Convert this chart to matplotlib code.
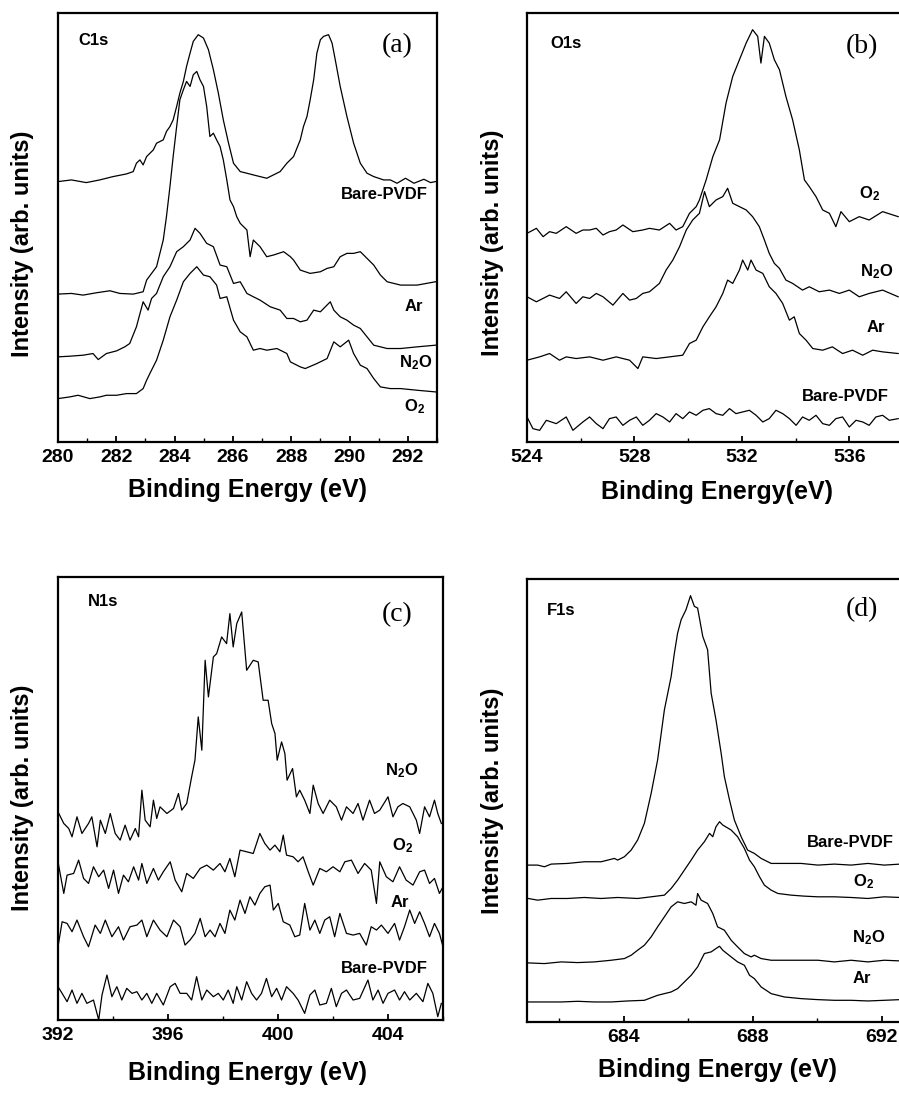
import matplotlib
matplotlib.use("Agg")
import matplotlib.pyplot as plt
from matplotlib.ticker import MultipleLocator

plt.rcParams['font.family'] = ['Liberation Sans', 'DejaVu Sans']
plt.rcParams['font.weight'] = 'bold'
plt.rcParams['mathtext.fontset'] = 'custom'
plt.rcParams['mathtext.rm'] = 'Liberation Sans:bold'
plt.rcParams['mathtext.bf'] = 'Liberation Sans:bold'
plt.rcParams['mathtext.it'] = 'Liberation Sans:bold'

# ---------------- Panel (a) C1s ----------------
a_bare_E = [280.00, 280.46, 280.97, 281.43, 281.89, 282.35, 282.58, 282.69, 282.81, 282.92, 283.04, 283.27,
            283.38, 283.61, 283.72, 283.84, 283.95, 284.07, 284.18, 284.30, 284.41, 284.53, 284.64, 284.81,
            284.99, 285.16, 285.33, 285.50, 285.67, 285.85, 286.02, 286.25, 286.48, 286.70, 286.93, 287.16,
            287.39, 287.62, 287.85, 288.08, 288.31, 288.42, 288.54, 288.65, 288.77, 288.88, 289.00, 289.11,
            289.28, 289.40, 289.51, 289.68, 289.91, 290.14, 290.37, 290.60, 290.83, 291.17, 291.40, 291.63,
            291.92, 292.21, 292.55, 292.78, 292.95]
a_bare_I = [78.0, 78.5, 77.7, 78.5, 79.5, 80.3, 81.0, 83.5, 84.5, 83.0, 85.5, 87.5,
            89.5, 90.5, 93.0, 94.5, 96.5, 100.5, 104.5, 108.0, 112.5, 116.5, 120.0, 122.0,
            121.0, 117.5, 111.5, 104.5, 96.5, 89.5, 83.5, 81.0, 80.5, 80.0, 79.5, 79.0,
            80.0, 81.0, 83.5, 85.5, 90.5, 94.5, 97.5, 102.5, 108.5, 116.5, 120.5, 121.5,
            122.0, 119.5, 114.5, 106.5, 97.5, 89.5, 83.5, 80.5, 79.5, 78.5, 78.5, 77.5,
            79.0, 77.5, 78.7, 77.7, 78.0]

a_ar_E = [280.00, 280.46, 280.86, 281.32, 281.78, 282.12, 282.58, 282.92, 283.04, 283.38, 283.61, 283.72,
          283.84, 283.95, 284.07, 284.18, 284.30, 284.41, 284.53, 284.64, 284.76, 284.87, 284.99, 285.10,
          285.21, 285.33, 285.44, 285.56, 285.67, 285.79, 285.90, 286.02, 286.13, 286.25, 286.48, 286.59,
          286.70, 286.93, 287.16, 287.39, 287.74, 287.97, 288.08, 288.31, 288.65, 289.00, 289.23, 289.46,
          289.68, 289.91, 290.14, 290.37, 290.60, 290.83, 291.06, 291.29, 291.75, 292.32, 292.95]
a_ar_I = [44.3, 44.5, 44.0, 44.7, 45.3, 44.5, 44.3, 45.0, 48.5, 52.5, 60.5, 67.5,
          76.5, 85.5, 94.5, 102.5, 105.5, 108.0, 106.5, 110.0, 111.0, 108.5, 106.5, 100.5,
          91.5, 92.5, 90.5, 88.5, 84.5, 78.5, 72.5, 70.5, 67.5, 65.5, 63.5, 55.5,
          60.5, 58.5, 55.5, 56.0, 57.0, 55.5, 54.5, 51.5, 50.5, 51.0, 52.0, 52.5,
          55.5, 56.5, 56.5, 57.0, 55.0, 53.0, 50.0, 48.0, 47.0, 47.0, 48.0]

a_n2o_E = [280.00, 280.40, 280.86, 281.20, 281.38, 281.66, 282.01, 282.29, 282.46, 282.69, 282.92, 283.09,
           283.21, 283.38, 283.61, 283.84, 284.07, 284.30, 284.53, 284.70, 284.87, 285.10, 285.33, 285.56,
           285.79, 286.02, 286.25, 286.48, 286.70, 286.93, 287.28, 287.62, 287.85, 288.08, 288.31, 288.54,
           288.77, 289.00, 289.34, 289.46, 289.68, 289.91, 290.14, 290.37, 290.60, 290.83, 291.29, 291.75,
           292.32, 292.95]
a_n2o_I = [25.5, 25.7, 26.0, 26.5, 24.7, 26.5, 27.3, 28.5, 29.5, 34.5, 42.0, 39.5,
           43.0, 44.5, 49.5, 52.5, 57.0, 58.5, 60.5, 64.0, 62.5, 59.5, 58.5, 53.0,
           52.5, 47.5, 48.0, 44.5, 43.5, 42.5, 40.5, 39.5, 37.0, 37.0, 36.0, 36.5,
           39.5, 39.0, 42.0, 39.5, 37.5, 36.5, 35.0, 34.0, 31.5, 29.0, 28.0, 28.0,
           28.5, 29.0]

a_o2_E = [280.00, 280.40, 280.69, 281.09, 281.43, 281.66, 282.01, 282.35, 282.69, 282.92, 283.04, 283.15,
          283.38, 283.61, 283.84, 284.07, 284.30, 284.53, 284.76, 284.99, 285.21, 285.44, 285.56, 285.79,
          286.02, 286.25, 286.48, 286.70, 286.93, 287.16, 287.51, 287.85, 287.97, 288.31, 288.48, 288.88,
          289.23, 289.46, 289.68, 289.97, 290.14, 290.37, 290.60, 290.83, 291.06, 291.40, 291.75, 292.32,
          292.95]
a_o2_I = [13.0, 13.5, 14.0, 13.0, 13.5, 14.0, 14.0, 14.5, 14.5, 16.0, 18.5, 20.5,
          24.5, 30.5, 37.5, 42.5, 48.0, 50.5, 52.5, 50.0, 49.5, 47.0, 43.0, 43.5,
          36.5, 33.0, 31.5, 27.5, 28.0, 27.5, 28.0, 26.5, 24.0, 22.5, 22.0, 23.5,
          25.0, 30.0, 28.5, 30.5, 26.5, 23.0, 22.0, 19.0, 16.5, 16.0, 16.0, 15.5,
          15.0]

# ---------------- Panel (b) O1s ----------------
b_o2_E = [524.00, 524.35, 524.60, 524.84, 525.09, 525.46, 525.83, 526.08, 526.33, 526.58, 526.83, 527.07,
          527.32, 527.57, 527.94, 528.31, 528.56, 528.93, 529.31, 529.55, 529.80, 530.05, 530.30, 530.42,
          530.67, 530.92, 531.17, 531.41, 531.66, 531.91, 532.16, 532.40, 532.59, 532.71, 532.84, 533.02,
          533.21, 533.40, 533.64, 533.89, 534.14, 534.33, 534.51, 534.76, 535.01, 535.26, 535.50, 535.69,
          536.00, 536.37, 536.74, 537.24, 537.82]
b_o2_I = [62.5, 64.0, 61.5, 63.0, 62.5, 64.5, 62.5, 63.5, 63.5, 64.0, 62.0, 63.0,
          63.5, 65.0, 63.0, 63.5, 64.0, 63.5, 65.5, 63.5, 64.5, 68.5, 70.5, 72.5,
          78.5, 85.5, 90.5, 101.5, 109.5, 114.5, 119.5, 123.5, 121.5, 113.5, 121.5, 119.5,
          114.5, 111.5, 103.5, 96.5, 87.5, 78.5, 76.5, 73.5, 69.5, 68.5, 64.5, 69.0,
          66.0, 67.5, 66.5, 69.0, 67.5]

b_n2o_E = [524.00, 524.35, 524.84, 525.21, 525.46, 525.83, 526.08, 526.33, 526.58, 526.83, 527.20, 527.57,
           527.82, 528.07, 528.31, 528.56, 528.93, 529.18, 529.43, 529.68, 529.93, 530.17, 530.42, 530.61,
           530.79, 531.04, 531.29, 531.47, 531.66, 531.91, 532.16, 532.40, 532.65, 532.84, 533.02, 533.21,
           533.40, 533.64, 533.89, 534.26, 534.51, 534.88, 535.26, 535.63, 536.00, 536.37, 536.74, 537.24,
           537.82]
b_n2o_I = [43.5, 42.0, 44.0, 43.0, 45.0, 41.5, 43.5, 43.0, 44.5, 43.5, 41.0, 44.5,
           42.5, 43.0, 44.5, 45.0, 47.5, 51.5, 54.5, 58.5, 63.5, 66.5, 68.5, 75.0,
           70.5, 72.5, 73.5, 76.0, 71.5, 70.5, 69.5, 67.5, 64.5, 60.5, 56.5, 53.5,
           52.0, 48.5, 47.5, 45.5, 46.5, 45.0, 45.5, 44.5, 45.5, 43.5, 44.5, 45.5,
           43.5]

b_ar_E = [524.00, 524.47, 524.84, 525.21, 525.46, 525.83, 526.33, 526.83, 527.32, 527.82, 528.13, 528.31,
          528.81, 529.31, 529.80, 530.05, 530.30, 530.55, 530.79, 531.04, 531.29, 531.47, 531.66, 531.91,
          532.03, 532.22, 532.34, 532.53, 532.78, 533.02, 533.27, 533.52, 533.77, 533.95, 534.14, 534.39,
          534.64, 535.01, 535.37, 535.75, 536.12, 536.50, 536.87, 537.24, 537.82]
b_ar_I = [24.5, 25.5, 26.5, 24.5, 25.5, 25.0, 25.5, 24.5, 25.5, 24.5, 22.0, 25.5,
          25.0, 25.5, 26.0, 29.5, 30.5, 34.5, 37.5, 40.5, 44.5, 48.5, 47.5, 51.5,
          54.5, 51.5, 54.5, 51.5, 50.5, 46.5, 44.5, 41.5, 36.5, 37.5, 32.5, 30.5,
          28.0, 27.5, 28.5, 26.5, 27.5, 26.0, 27.5, 27.0, 26.5]

b_bare_E = [524.00, 524.22, 524.47, 524.72, 525.09, 525.46, 525.71, 526.08, 526.33, 526.58, 526.83, 527.07,
            527.32, 527.57, 527.82, 528.07, 528.31, 528.56, 528.81, 529.06, 529.31, 529.55, 529.80, 530.05,
            530.30, 530.55, 530.79, 531.04, 531.29, 531.54, 531.78, 532.03, 532.28, 532.53, 532.78, 533.02,
            533.27, 533.52, 533.77, 534.02, 534.26, 534.51, 534.76, 535.01, 535.26, 535.50, 535.75, 536.00,
            536.25, 536.50, 536.74, 536.99, 537.24, 537.49, 537.82]
b_bare_I = [7.5, 4.0, 3.5, 6.5, 5.5, 7.5, 3.5, 6.0, 7.5, 5.5, 4.0, 7.0,
            7.5, 5.0, 6.5, 7.5, 5.0, 6.5, 8.5, 7.5, 6.0, 8.5, 7.0, 9.0,
            8.0, 9.5, 10.0, 8.5, 8.0, 10.0, 8.5, 9.0, 9.5, 8.0, 6.0, 7.0,
            9.5, 8.5, 7.0, 5.0, 7.5, 6.5, 8.0, 5.5, 5.0, 7.0, 7.5, 4.5,
            6.5, 6.0, 5.0, 7.5, 8.0, 6.5, 7.0]

# ---------------- Panel (c) N1s ----------------
c_n2o_E = [392.00, 392.21, 392.39, 392.51, 392.69, 392.87, 393.11, 393.23, 393.42, 393.54, 393.72, 393.90,
           394.08, 394.26, 394.44, 394.62, 394.81, 394.93, 395.05, 395.17, 395.35, 395.47, 395.59, 395.71,
           395.96, 396.20, 396.38, 396.50, 396.68, 396.86, 396.98, 397.10, 397.23, 397.35, 397.47, 397.65,
           397.77, 397.95, 398.13, 398.25, 398.37, 398.50, 398.68, 398.86, 399.10, 399.28, 399.46, 399.64,
           399.77, 399.89, 399.97, 400.13, 400.25, 400.33, 400.53, 400.67, 400.79, 400.97, 401.16, 401.28,
           401.46, 401.64, 401.88, 402.12, 402.31, 402.49, 402.73, 402.91, 403.09, 403.33, 403.51, 403.70,
           404.00, 404.18, 404.36, 404.54, 404.79, 405.03, 405.15, 405.33, 405.51, 405.69, 405.81, 405.94]
c_n2o_I = [62.5, 59.0, 57.5, 55.0, 61.0, 56.0, 59.0, 61.0, 52.0, 60.0, 56.0, 62.0,
           56.0, 54.0, 58.5, 54.0, 57.5, 55.0, 69.0, 60.0, 58.0, 66.0, 60.5, 64.0,
           62.0, 63.5, 68.0, 63.0, 65.0, 73.0, 78.0, 91.0, 81.0, 108.0, 97.0, 109.0,
           110.0, 115.0, 113.0, 122.0, 112.0, 119.0, 122.5, 105.0, 108.0, 107.5, 96.0, 96.0,
           89.0, 86.0, 78.0, 83.5, 80.0, 72.0, 75.5, 67.0, 69.0, 66.0, 62.0, 70.5,
           65.0, 62.0, 66.0, 64.0, 60.0, 64.0, 62.0, 65.0, 60.0, 66.0, 62.0, 63.0,
           67.0, 61.0, 64.0, 65.0, 64.0, 60.0, 56.0, 64.0, 61.0, 66.0, 62.0, 59.0]

c_o2_E = [392.00, 392.21, 392.33, 392.57, 392.75, 392.93, 393.11, 393.29, 393.48, 393.66, 393.84, 394.02,
          394.20, 394.38, 394.56, 394.75, 394.93, 395.05, 395.23, 395.47, 395.65, 395.83, 396.08, 396.26,
          396.50, 396.68, 396.92, 397.17, 397.41, 397.65, 397.89, 398.07, 398.25, 398.43, 398.62, 398.86,
          399.10, 399.34, 399.52, 399.71, 399.89, 400.07, 400.19, 400.31, 400.55, 400.73, 400.91, 401.10,
          401.28, 401.52, 401.76, 402.00, 402.25, 402.43, 402.67, 402.91, 403.15, 403.39, 403.58, 403.70,
          403.94, 404.18, 404.42, 404.66, 404.91, 405.15, 405.33, 405.51, 405.69, 405.87, 406.00]
c_o2_I = [47.5, 38.0, 43.5, 44.0, 48.0, 42.5, 41.0, 46.0, 43.0, 45.0, 39.5, 45.0,
          38.0, 43.5, 41.5, 46.0, 42.0, 47.0, 41.0, 45.5, 42.0, 44.5, 47.5, 42.0,
          38.5, 44.0, 42.5, 45.5, 46.5, 45.0, 47.0, 44.5, 48.5, 43.0, 51.0, 50.5,
          50.0, 56.0, 53.0, 51.0, 52.5, 50.5, 55.5, 49.5, 49.0, 47.5, 49.0, 44.5,
          40.5, 45.5, 44.5, 46.0, 44.5, 47.5, 48.0, 44.0, 47.0, 45.0, 35.0, 47.5,
          43.0, 41.5, 46.0, 42.0, 40.5, 44.5, 45.0, 41.0, 42.5, 38.0, 40.0]

c_ar_E = [392.00, 392.15, 392.33, 392.51, 392.69, 392.93, 393.11, 393.35, 393.54, 393.72, 393.96, 394.20,
          394.38, 394.62, 394.87, 395.05, 395.23, 395.47, 395.71, 395.96, 396.20, 396.44, 396.62, 396.80,
          396.98, 397.17, 397.35, 397.53, 397.71, 397.89, 398.07, 398.25, 398.43, 398.62, 398.80, 398.98,
          399.16, 399.34, 399.52, 399.71, 399.83, 400.01, 400.19, 400.43, 400.61, 400.79, 400.97, 401.16,
          401.34, 401.52, 401.70, 401.88, 402.06, 402.25, 402.49, 402.73, 402.97, 403.21, 403.39, 403.58,
          403.76, 404.00, 404.24, 404.42, 404.60, 404.79, 404.97, 405.15, 405.33, 405.51, 405.69, 405.87,
          406.00]
c_ar_I = [22.0, 29.5, 29.0, 26.5, 30.0, 25.0, 22.0, 28.5, 26.0, 30.0, 25.0, 28.0,
          24.0, 28.0, 28.5, 30.0, 25.0, 30.0, 27.0, 25.0, 30.0, 28.0, 22.5, 24.0,
          26.0, 30.5, 25.0, 27.0, 25.0, 29.0, 26.0, 33.0, 30.0, 36.0, 32.0, 37.0,
          34.5, 38.0, 40.0, 40.5, 33.0, 35.0, 29.5, 28.5, 25.0, 25.5, 35.0, 27.0,
          30.0, 26.0, 30.0, 31.0, 25.0, 32.0, 26.0, 25.5, 26.0, 22.5, 28.0, 27.0,
          28.5, 26.0, 29.0, 24.0, 28.0, 33.0, 29.0, 32.5, 29.0, 25.0, 29.0, 26.0,
          22.0]

c_bare_E = [392.00, 392.15, 392.33, 392.51, 392.69, 392.87, 393.05, 393.29, 393.48, 393.60, 393.78, 393.96,
            394.14, 394.32, 394.50, 394.69, 394.87, 395.05, 395.23, 395.41, 395.59, 395.83, 396.08, 396.26,
            396.44, 396.68, 396.86, 397.04, 397.23, 397.41, 397.65, 397.83, 398.01, 398.19, 398.37, 398.50,
            398.68, 398.86, 399.04, 399.22, 399.40, 399.58, 399.77, 399.95, 400.13, 400.31, 400.55, 400.73,
            400.97, 401.16, 401.34, 401.52, 401.76, 401.94, 402.12, 402.31, 402.49, 402.73, 402.97, 403.27,
            403.45, 403.64, 403.82, 404.00, 404.24, 404.42, 404.60, 404.79, 405.03, 405.27, 405.45, 405.63,
            405.81, 405.94]
c_bare_I = [10.0, 8.0, 5.5, 9.0, 5.0, 8.0, 5.0, 6.0, 0.0, 7.5, 13.5, 7.0,
            10.0, 6.0, 9.5, 8.0, 8.5, 6.0, 8.0, 5.0, 8.0, 4.5, 10.0, 11.0,
            8.0, 8.0, 6.0, 13.0, 6.0, 9.0, 7.0, 8.0, 6.0, 9.0, 5.0, 10.0,
            6.0, 11.5, 8.0, 6.0, 8.0, 12.5, 7.0, 9.5, 6.0, 10.0, 8.0, 6.0,
            2.0, 7.5, 9.0, 4.5, 5.0, 9.5, 4.0, 8.0, 9.0, 6.0, 6.5, 12.0,
            6.0, 9.0, 5.0, 8.0, 9.0, 6.0, 8.5, 6.0, 8.0, 5.5, 11.0, 8.0,
            1.0, 5.0]

# ---------------- Panel (d) F1s ----------------
d_bare_E = [681.04, 681.33, 681.54, 681.75, 682.26, 682.78, 683.30, 683.71, 683.81, 684.02, 684.23, 684.43,
            684.64, 684.85, 685.05, 685.26, 685.47, 685.57, 685.67, 685.78, 685.93, 686.07, 686.19, 686.29,
            686.45, 686.60, 686.71, 686.86, 687.02, 687.12, 687.28, 687.43, 687.64, 687.84, 688.05, 688.26,
            688.57, 688.98, 689.50, 690.02, 690.53, 691.05, 691.57, 692.08, 692.57]
d_bare_I = [47.0, 47.0, 46.5, 47.3, 47.5, 48.0, 48.0, 49.0, 48.5, 49.5, 51.5, 54.5,
            59.5, 68.5, 78.5, 93.5, 103.5, 110.5, 116.5, 120.5, 123.5, 127.7, 124.5, 124.0,
            115.5, 111.5, 98.5, 90.5, 80.5, 73.5, 66.5, 60.5, 55.5, 51.5, 50.5, 49.0,
            47.5, 47.5, 47.5, 47.0, 47.3, 47.0, 47.5, 47.0, 47.3]

d_o2_E = [681.04, 681.33, 681.75, 682.26, 682.78, 683.30, 683.81, 684.43, 684.85, 685.26, 685.47, 685.67,
          685.88, 686.09, 686.29, 686.50, 686.66, 686.76, 686.86, 686.97, 687.07, 687.33, 687.53, 687.74,
          687.90, 688.05, 688.21, 688.36, 688.57, 688.78, 689.19, 689.60, 690.02, 690.53, 691.05, 691.57,
          692.08, 692.57]
d_o2_I = [37.0, 36.5, 37.0, 37.0, 37.3, 37.0, 37.3, 37.0, 37.5, 38.0, 40.0, 42.5,
          45.5, 48.5, 51.5, 54.0, 56.5, 55.5, 58.5, 60.0, 59.0, 57.5, 55.5, 52.0,
          48.5, 46.5, 43.5, 41.0, 39.5, 38.5, 38.0, 37.7, 37.5, 37.5, 37.3, 37.0,
          37.5, 37.3]

d_n2o_E = [681.04, 681.54, 682.06, 682.57, 683.09, 683.61, 684.02, 684.23, 684.43, 684.64, 684.85, 685.05,
           685.26, 685.47, 685.67, 685.88, 686.09, 686.24, 686.29, 686.40, 686.60, 686.76, 686.91, 687.12,
           687.33, 687.53, 687.74, 687.95, 688.05, 688.26, 688.57, 688.98, 689.50, 690.02, 690.53, 691.05,
           691.57, 692.08, 692.57]
d_n2o_I = [17.7, 17.5, 18.0, 17.8, 18.0, 18.5, 19.0, 20.0, 21.5, 23.0, 25.5, 28.5,
           31.5, 34.5, 36.0, 35.5, 36.0, 35.0, 38.5, 36.5, 35.5, 32.5, 28.5, 27.5,
           24.5, 22.5, 20.5, 19.5, 20.0, 19.0, 18.5, 18.5, 18.5, 18.5, 18.0, 18.5,
           18.0, 18.5, 18.3]

d_ar_E = [681.04, 681.54, 682.06, 682.57, 683.09, 683.61, 684.12, 684.64, 685.05, 685.26, 685.47, 685.67,
          685.88, 686.09, 686.29, 686.50, 686.71, 686.86, 686.97, 687.07, 687.33, 687.53, 687.74, 687.90,
          688.05, 688.26, 688.57, 688.98, 689.50, 690.02, 690.53, 691.05, 691.57, 692.08, 692.57]
d_ar_I = [6.0, 6.0, 6.0, 6.2, 6.0, 6.0, 6.3, 6.5, 8.0, 8.5, 9.0, 10.0,
          12.0, 14.0, 16.5, 20.5, 21.0, 22.0, 22.7, 21.5, 19.5, 18.0, 17.0, 14.0,
          13.0, 10.5, 8.5, 7.5, 7.0, 6.7, 6.5, 6.5, 6.3, 6.5, 6.7]

N2O = r'N$_{\mathbf{2}}$O'
O2 = r'O$_{\mathbf{2}}$'

W, H = 899, 1115
fig = plt.figure(figsize=(W / 100, H / 100), dpi=100)


def make_ax(left, top, right, bottom):
    return fig.add_axes([left / W, 1 - bottom / H, (right - left) / W, (bottom - top) / H])


def style(ax, xlim, ylim, major, minor):
    ax.set_xlim(*xlim)
    ax.set_ylim(*ylim)
    ax.set_yticks([])
    ax.xaxis.set_major_locator(MultipleLocator(major))
    ax.xaxis.set_minor_locator(MultipleLocator(minor))
    ax.tick_params(axis='x', which='major', direction='in', length=4, width=1.3,
                   labelsize=14, pad=5, top=False)
    ax.tick_params(axis='x', which='minor', direction='in', length=3, width=1.0, top=False)
    for lab in ax.get_xticklabels():
        lab.set_fontweight('bold')
    for s in ax.spines.values():
        s.set_linewidth(1.6)


LW = 0.9
lbl = dict(fontsize=12, fontweight='bold')

# (a)
axa = make_ax(58, 13, 437, 442)
for E, I in [(a_bare_E, a_bare_I), (a_ar_E, a_ar_I), (a_n2o_E, a_n2o_I), (a_o2_E, a_o2_I)]:
    axa.plot(E, I, color='black', lw=LW)
style(axa, (280, 293), (0, 128.5), 2, 1)
axa.text(0.055, 0.937, 'C1s', transform=axa.transAxes, ha='left', va='center', **lbl)
axa.text(0.894, 0.923, '(a)', transform=axa.transAxes, ha='center', va='center',
         fontsize=20, family='Liberation Serif', fontweight='normal')
axa.text(0.976, 0.576, 'Bare-PVDF', transform=axa.transAxes, ha='right', va='center', **lbl)
axa.text(0.963, 0.317, 'Ar', transform=axa.transAxes, ha='right', va='center', **lbl)
axa.text(0.987, 0.184, N2O, transform=axa.transAxes, ha='right', va='center', **lbl)
axa.text(0.968, 0.082, O2, transform=axa.transAxes, ha='right', va='center', **lbl)

# (b)
axb = make_ax(527, 13, 903, 442)
for E, I in [(b_o2_E, b_o2_I), (b_n2o_E, b_n2o_I), (b_ar_E, b_ar_I), (b_bare_E, b_bare_I)]:
    axb.plot(E, I, color='black', lw=LW)
style(axb, (524, 538), (0, 128.5), 4, 2)
axb.text(0.061, 0.930, 'O1s', transform=axb.transAxes, ha='left', va='center', **lbl)
axb.text(0.891, 0.921, '(b)', transform=axb.transAxes, ha='center', va='center',
         fontsize=20, family='Liberation Serif', fontweight='normal')
axb.text(0.939, 0.580, O2, transform=axb.transAxes, ha='right', va='center', **lbl)
axb.text(0.973, 0.396, N2O, transform=axb.transAxes, ha='right', va='center', **lbl)
axb.text(0.952, 0.266, 'Ar', transform=axb.transAxes, ha='right', va='center', **lbl)
axb.text(0.963, 0.105, 'Bare-PVDF', transform=axb.transAxes, ha='right', va='center', **lbl)

# (c)
axc = make_ax(58, 577, 443, 1020)
for E, I in [(c_n2o_E, c_n2o_I), (c_o2_E, c_o2_I), (c_ar_E, c_ar_I), (c_bare_E, c_bare_I)]:
    axc.plot(E, I, color='black', lw=LW)
style(axc, (392, 406), (0, 133), 4, 2)
axc.text(0.078, 0.944, 'N1s', transform=axc.transAxes, ha='left', va='center', **lbl)
axc.text(0.881, 0.914, '(c)', transform=axc.transAxes, ha='center', va='center',
         fontsize=20, family='Liberation Serif', fontweight='normal')
axc.text(0.935, 0.562, N2O, transform=axc.transAxes, ha='right', va='center', **lbl)
axc.text(0.923, 0.393, O2, transform=axc.transAxes, ha='right', va='center', **lbl)
axc.text(0.913, 0.266, 'Ar', transform=axc.transAxes, ha='right', va='center', **lbl)
axc.text(0.961, 0.117, 'Bare-PVDF', transform=axc.transAxes, ha='right', va='center', **lbl)

# (d)
axd = make_ax(527, 579, 914, 1022)
for E, I in [(d_bare_E, d_bare_I), (d_o2_E, d_o2_I), (d_n2o_E, d_n2o_I), (d_ar_E, d_ar_I)]:
    axd.plot(E, I, color='black', lw=LW)
style(axd, (681, 693), (0, 132.7), 4, 2)
axd.text(0.052, 0.930, 'F1s', transform=axd.transAxes, ha='left', va='center', **lbl)
axd.text(0.866, 0.930, '(d)', transform=axd.transAxes, ha='center', va='center',
         fontsize=20, family='Liberation Serif', fontweight='normal')
axd.text(0.724, 0.406, 'Bare-PVDF', transform=axd.transAxes, ha='left', va='center', **lbl)
axd.text(0.897, 0.316, O2, transform=axd.transAxes, ha='right', va='center', **lbl)
axd.text(0.925, 0.190, N2O, transform=axd.transAxes, ha='right', va='center', **lbl)
axd.text(0.889, 0.099, 'Ar', transform=axd.transAxes, ha='right', va='center', **lbl)

# axis labels
ylab = dict(fontsize=17, fontweight='bold', rotation=90, ha='center', va='center')
fig.text(23 / W, 1 - 244 / H, 'Intensity (arb. units)', **ylab)
fig.text(493 / W, 1 - 243 / H, 'Intensity (arb. units)', **ylab)
fig.text(23 / W, 1 - 798 / H, 'Intensity (arb. units)', **ylab)
fig.text(493 / W, 1 - 801 / H, 'Intensity (arb. units)', **ylab)

xlab = dict(fontsize=18, fontweight='bold', ha='center', va='center')
fig.text(247 / W, 1 - 490 / H, 'Binding Energy (eV)', **xlab)
fig.text(717 / W, 1 - 492 / H, 'Binding Energy(eV)', **xlab)
fig.text(247 / W, 1 - 1073 / H, 'Binding Energy (eV)', **xlab)
fig.text(718 / W, 1 - 1070 / H, 'Binding Energy (eV)', **xlab)

fig.savefig('out.png', dpi=100)
